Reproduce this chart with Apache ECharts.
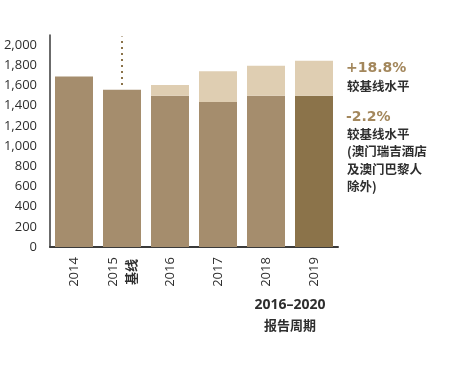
<!DOCTYPE html>
<html>
<head>
<meta charset="utf-8">
<script src="https://cdn.jsdelivr.net/npm/echarts@6/dist/echarts.min.js"></script>
<style>
html,body{margin:0;padding:0;background:#fff;}
#chart{width:449px;height:390px;}
</style>
</head>
<body>
<div id="chart"></div>
<script>
const categories = ['2014', '2015', '2016', '2017', '2018', '2019'];
const baselineLabel = '基线';
const baseValues = [1688, 1558, 1498, 1436, 1498, 1498];
const addedValues = [0, 0, 106, 304, 297, 347];
const baselineMarker = [1605, 2085];
const periodLabel = ['2016–2020', '报告周期'];
const noteUp = ['+18.8%', '较基线水平'];
const noteDown = ['-2.2%', '较基线水平', '(澳门瑞吉酒店', '及澳门巴黎人', '除外)'];

const cBase = '#A58D6D';
const cLight = '#DFCEB2';
const cDark = '#8B734A';
const cText = '#2e2e2e';
const cGold = '#A3875C';

const chart = echarts.init(document.getElementById('chart'));

const graphics = [];
graphics.push({type:'text', x: 290, y: 305, style:{text: periodLabel[0], align:'center', verticalAlign:'middle', fill: cText,
  font: 'bold 14px "Open Sans", sans-serif'}});
graphics.push({type:'text', x: 290, y: 325, style:{text: periodLabel[1], align:'center', verticalAlign:'middle', fill: cText,
  font: 'bold 13px "Noto Sans CJK SC", sans-serif'}});
graphics.push({type:'text', x: 346, y: 68, style:{text: noteUp[0], verticalAlign:'middle', fill: cGold,
  font: 'bold 14px "DejaVu Sans", sans-serif'}});
graphics.push({type:'text', x: 347, y: 86, style:{text: noteUp[1], verticalAlign:'middle', fill: cText,
  font: 'bold 12.5px "Noto Sans CJK SC", sans-serif'}});
graphics.push({type:'text', x: 346, y: 117, style:{text: noteDown[0], verticalAlign:'middle', fill: cGold,
  font: 'bold 14px "DejaVu Sans", sans-serif'}});
noteDown.slice(1).forEach((t, i) => {
  graphics.push({type:'text', x: 347, y: 134 + i * 17.5, style:{text: t, verticalAlign:'middle', fill: cText,
    font: 'bold 12.5px "Noto Sans CJK SC", sans-serif'}});
});

const option = {
  animation: false,
  grid: {left: 50, top: 35, width: 288, bottom: 143, containLabel: false},
  xAxis: {
    type: 'category',
    data: categories,
    axisLine: {lineStyle: {color: '#3a3a3a', width: 2}},
    axisTick: {show: false},
    axisLabel: {
      rotate: 90, align: 'center', margin: 25, interval: 0,
      color: cText, fontSize: 13, fontFamily: '"Open Sans", sans-serif',
      formatter: (v) => v === categories[1] ? v + '\n{b|' + baselineLabel + '}' : v,
      rich: {b: {fontWeight: 'bold', fontSize: 13, fontFamily: '"Noto Sans CJK SC", sans-serif', color: cText, lineHeight: 18}},
      lineHeight: 18
    }
  },
  yAxis: {
    type: 'value', min: 0, max: 2100, interval: 200,
    axisLine: {show: true, lineStyle: {color: '#3a3a3a', width: 1.5}},
    axisTick: {show: false},
    splitLine: {show: false},
    axisLabel: {
      margin: 13, color: cText, fontSize: 13, fontFamily: '"Open Sans", sans-serif',
      padding: [0, 0, 5, 0],
      formatter: (v) => v > 2000 ? '' : v.toLocaleString('en-US')
    }
  },
  series: [
    {
      type: 'bar', stack: 'total', barWidth: 38,
      data: baseValues.map((v, i) => ({value: v, itemStyle: {color: i === categories.length - 1 ? cDark : cBase}})),
      itemStyle: {color: cBase}
    },
    {
      type: 'bar', stack: 'total', barWidth: 38,
      data: addedValues,
      itemStyle: {color: cLight}
    },
    {
      type: 'line', clip: false, symbol: 'none',
      data: baselineMarker.map(v => [categories[1], v]),
      lineStyle: {color: cDark, width: 2, type: [2, 4]},
      z: 5
    }
  ],
  graphic: graphics
};
chart.setOption(option);
</script>
</body>
</html>
